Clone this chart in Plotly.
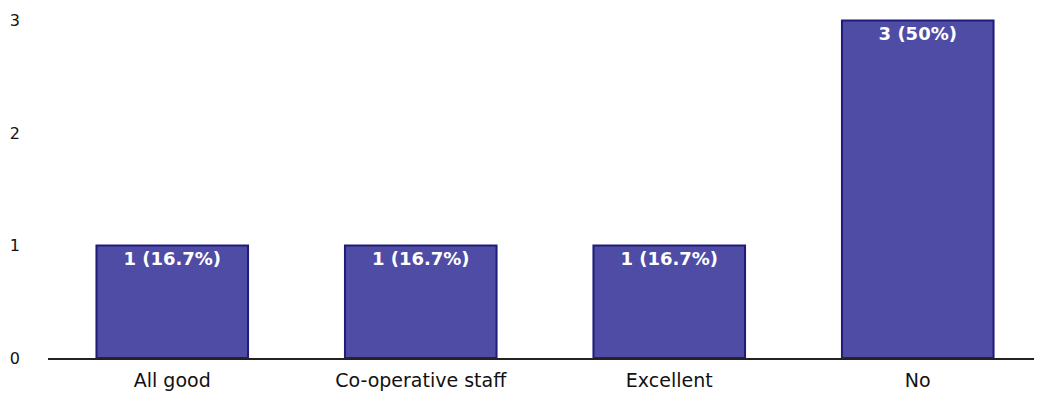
import plotly.graph_objects as go

categories = ["All good", "Co-operative staff", "Excellent", "No"]
counts = [1, 1, 1, 3]
labels = ["1 (16.7%)", "1 (16.7%)", "1 (16.7%)", "3 (50%)"]
y_ticks = [0, 1, 2, 3]

fig = go.Figure(go.Bar(
    x=categories, y=counts, text=labels,
    textposition="inside", insidetextanchor="end",
    textfont=dict(color="white", size=18, family="DejaVu Sans", weight="bold"),
    marker=dict(color="#4f4ca6", line=dict(color="#1e1c78", width=2)),
    width=0.61,
))

fig.update_layout(
    width=1034, height=395,
    margin=dict(l=40, r=0, t=0, b=45),
    paper_bgcolor="white", plot_bgcolor="white",
    showlegend=False,
    font=dict(family="DejaVu Sans", color="#111", size=15),
    uniformtext=dict(minsize=14, mode="show"),
)
fig.update_xaxes(
    range=[-0.5, 3.5], showgrid=False, showline=True, linecolor="#222", linewidth=2,
    ticks="", tickfont=dict(size=19, color="#111"), automargin=False,
    ticklabelstandoff=4,
)
fig.update_yaxes(
    range=[0, 3.11], tickvals=y_ticks, showgrid=False, zeroline=False, showline=False,
    ticks="", ticklabelstandoff=27, tickfont=dict(size=16, color="#111"), automargin=False,
)

fig.write_html("out.html")
